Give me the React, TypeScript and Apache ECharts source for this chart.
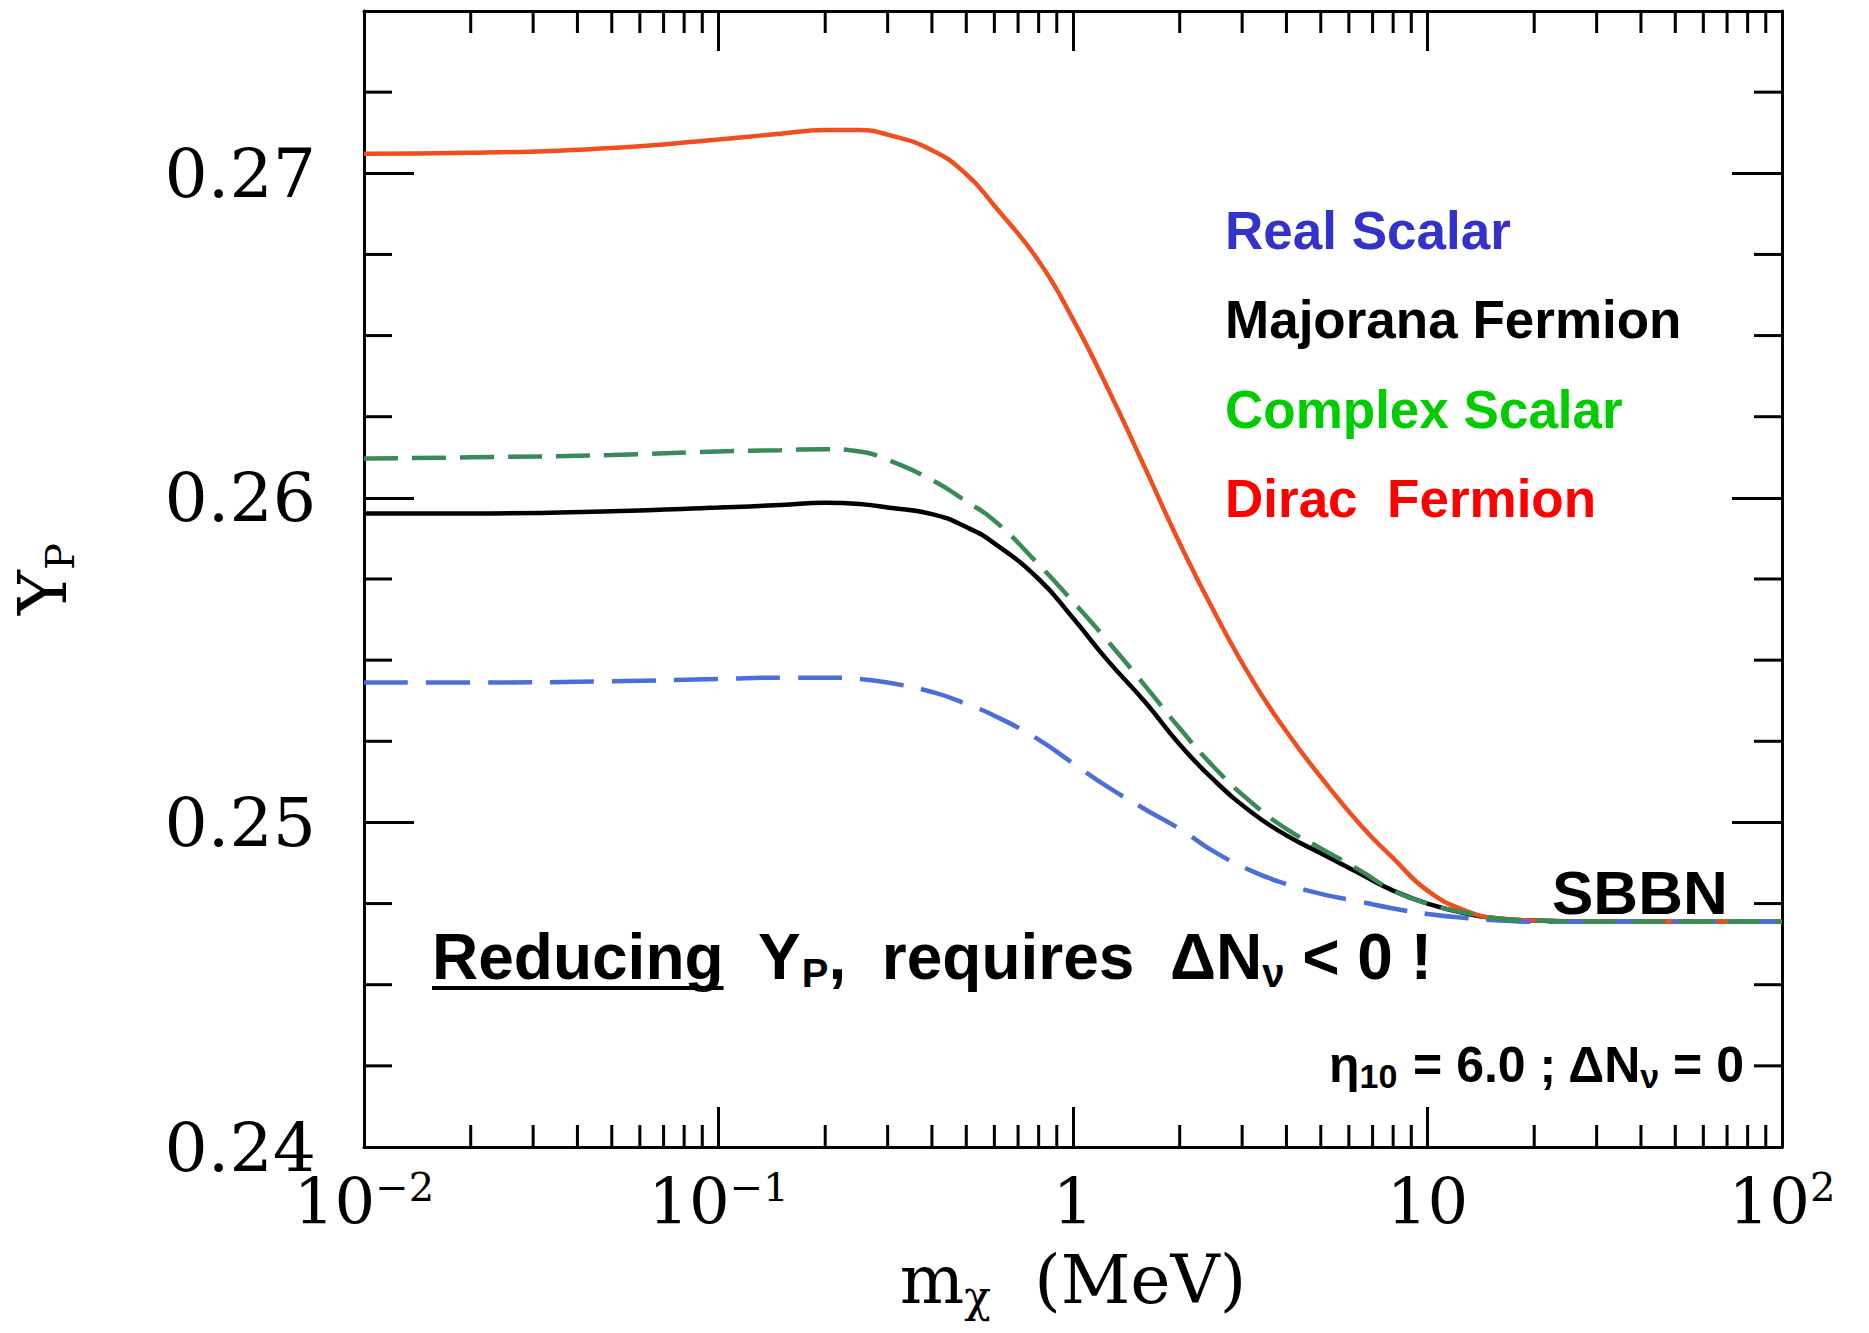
import React, { useEffect, useRef } from "react";
import * as echarts from "echarts";

// ---- data ----
const massMeV = [0.01, 0.02, 0.05, 0.1, 0.15, 0.2, 0.25, 0.3, 0.4, 0.5, 0.6, 0.8, 1.0, 1.25, 1.6, 2.0, 2.5, 3.2, 4.0, 5.0, 6.5, 8.0, 10, 13, 16, 20, 30, 50, 100];

const diracFermion = [0.2706, 0.27063, 0.27078, 0.27104, 0.27122, 0.27133, 0.27133, 0.27119, 0.27071, 0.26997, 0.2690, 0.2673, 0.2655, 0.2634, 0.2609, 0.2586, 0.2565, 0.2544, 0.2528, 0.2514, 0.2499, 0.2489, 0.2479, 0.24725, 0.24704, 0.24698, 0.24694, 0.24694, 0.24694];
const majoranaFermion = [0.25952, 0.25952, 0.25959, 0.2597, 0.25978, 0.25985, 0.25981, 0.2597, 0.2595, 0.2591, 0.2586, 0.2575, 0.2563, 0.255, 0.2537, 0.2524, 0.2513, 0.2503, 0.2496, 0.24905, 0.2484, 0.2479, 0.2475, 0.24718, 0.24703, 0.24698, 0.24694, 0.24694, 0.24694];
const complexScalar = [0.26121, 0.26125, 0.26132, 0.26143, 0.26147, 0.2615, 0.26143, 0.26117, 0.26055, 0.25989, 0.2593, 0.25795, 0.2568, 0.2556, 0.2542, 0.2529, 0.2517, 0.2506, 0.2498, 0.2492, 0.2485, 0.2479, 0.2475, 0.2472, 0.24703, 0.24698, 0.24694, 0.24694, 0.24694];
const realScalar = [0.25431, 0.25431, 0.25435, 0.25442, 0.25446, 0.25446, 0.25442, 0.25431, 0.25402, 0.25365, 0.25329, 0.25255, 0.25182, 0.2511, 0.2504, 0.2498, 0.2491, 0.2485, 0.2481, 0.2478, 0.24755, 0.24735, 0.24718, 0.24705, 0.24698, 0.24694, 0.24694, 0.24694, 0.24694];

const X_MIN = 0.01;
const X_MAX = 100;
const Y_MIN = 0.24;
const Y_MAX = 0.275;

const xTickLabels = ["{b|10}{p|\u22122}", "{b|10}{p|\u22121}", "{b|1}", "{b|10}", "{b|10}{p|2}"];
const xMinorTicks: number[] = [];
[0.01, 0.1, 1, 10].forEach((d) => {
  for (let k = 2; k <= 9; k++) xMinorTicks.push(+(k * d).toPrecision(3));
});
const yMinorTicks = [0.2425, 0.245, 0.2475, 0.2525, 0.255, 0.2575, 0.2625, 0.265, 0.2675, 0.2725];

const legendItems = [
  { text: "Real Scalar", color: "#3333CC" },
  { text: "Majorana Fermion", color: "#000000" },
  { text: "Complex Scalar", color: "#00CC00" },
  { text: "Dirac  Fermion", color: "#FF0000" },
];

const SERIF = "'DejaVu Serif', 'Liberation Serif', serif";
const SANS = "'Liberation Sans', Arial, sans-serif";

const pair = (arr: number[]) => massMeV.map((m, i) => [m, arr[i]]);

export default function App() {
  const ref = useRef<HTMLDivElement>(null);

  useEffect(() => {
    document.body.style.margin = "0";
    if (!ref.current) return;
    const chart = echarts.init(ref.current, undefined, { renderer: "svg" });

    const canvas = document.createElement("canvas");
    const ctx = canvas.getContext("2d")!;
    ctx.font = `bold 64px ${SANS}`;
    const underlineW = ctx.measureText("Reducing").width;

    const axisLine = { show: true, lineStyle: { color: "#000", width: 3 } };

    const tickData = [
      ...xMinorTicks.map((x) => [x, Y_MIN, 0]),
      ...yMinorTicks.map((y) => [X_MIN, y, 1]),
    ];

    const lineSeries = (name: string, arr: number[], lineStyle: any) => ({
      name,
      type: "line",
      data: pair(arr),
      showSymbol: false,
      smooth: 0.5,
      lineStyle,
    });

    const option: any = {
      animation: false,
      backgroundColor: "#ffffff",
      grid: { left: 364, right: 87, top: 11, bottom: 186, containLabel: false },
      xAxis: [
        {
          type: "log",
          logBase: 10,
          min: X_MIN,
          max: X_MAX,
          position: "bottom",
          axisLine,
          axisTick: { show: true, inside: true, length: 40, lineStyle: { color: "#000", width: 3 } },
          splitLine: { show: false },
          axisLabel: {
            margin: 20,
            formatter: (v: number) => xTickLabels[Math.round(Math.log10(v)) + 2] ?? "",
            rich: {
              b: { fontFamily: SERIF, fontSize: 64, lineHeight: 70, color: "#000" },
              p: { fontFamily: SERIF, fontSize: 40, lineHeight: 52, verticalAlign: "top", color: "#000" },
            },
          },
          name: "{m|m}{c|\u03c7}{t|  (MeV)}",
          nameLocation: "middle",
          nameGap: 93,
          nameTextStyle: {
            rich: {
              m: { fontFamily: SERIF, fontSize: 68, lineHeight: 78, color: "#000" },
              c: { fontFamily: SERIF, fontSize: 44, lineHeight: 40, verticalAlign: "bottom", color: "#000" },
              t: { fontFamily: SERIF, fontSize: 68, lineHeight: 78, color: "#000" },
            },
          },
        },
        {
          type: "log",
          logBase: 10,
          min: X_MIN,
          max: X_MAX,
          position: "top",
          axisLine,
          axisTick: { show: true, inside: true, length: 40, lineStyle: { color: "#000", width: 3 } },
          splitLine: { show: false },
          axisLabel: { show: false },
        },
      ],
      yAxis: [
        {
          type: "value",
          min: Y_MIN,
          max: Y_MAX,
          interval: 0.01,
          position: "left",
          axisLine,
          axisTick: { show: true, inside: true, length: 50, lineStyle: { color: "#000", width: 3 } },
          splitLine: { show: false },
          axisLabel: {
            margin: 48,
            showMaxLabel: false,
            fontFamily: SERIF,
            fontSize: 68,
            color: "#000",
            formatter: (v: number) => (Math.abs(v * 100 - Math.round(v * 100)) < 1e-6 ? v.toFixed(2) : ""),
          },
          name: "{y|Y}{s|P}",
          nameLocation: "middle",
          nameRotate: 90,
          nameGap: 284,
          nameTextStyle: {
            rich: {
              y: { fontFamily: SERIF, fontSize: 68, lineHeight: 76, color: "#000" },
              s: { fontFamily: SERIF, fontSize: 40, lineHeight: 40, verticalAlign: "bottom", color: "#000" },
            },
          },
        },
        {
          type: "value",
          min: Y_MIN,
          max: Y_MAX,
          interval: 0.01,
          position: "right",
          axisLine,
          axisTick: { show: true, inside: true, length: 50, lineStyle: { color: "#000", width: 3 } },
          splitLine: { show: false },
          axisLabel: { show: false },
        },
      ],
      series: [
        lineSeries("Majorana Fermion", majoranaFermion, { color: "#000000", width: 4.5 }),
        lineSeries("Dirac  Fermion", diracFermion, { color: "#F04E1E", width: 4.5 }),
        lineSeries("Real Scalar", realScalar, { color: "#4A6FD8", width: 4.5, type: [44, 18] }),
        lineSeries("Complex Scalar", complexScalar, { color: "#3A8A55", width: 4.5, type: [34, 14] }),
        {
          name: "minor ticks",
          type: "custom",
          silent: true,
          clip: false,
          z: 5,
          data: tickData,
          encode: { x: 0, y: 1 },
          renderItem: (_p: any, api: any) => {
            const kind = api.value(2);
            const style = { stroke: "#000", lineWidth: 3 };
            if (kind === 0) {
              const x = api.value(0);
              const pb = api.coord([x, Y_MIN]);
              const pt = api.coord([x, Y_MAX]);
              return {
                type: "group",
                children: [
                  { type: "line", shape: { x1: pb[0], y1: pb[1], x2: pb[0], y2: pb[1] - 22 }, style },
                  { type: "line", shape: { x1: pt[0], y1: pt[1], x2: pt[0], y2: pt[1] + 22 }, style },
                ],
              };
            }
            const y = api.value(1);
            const pl = api.coord([X_MIN, y]);
            const pr = api.coord([X_MAX, y]);
            return {
              type: "group",
              children: [
                { type: "line", shape: { x1: pl[0], y1: pl[1], x2: pl[0] + 28, y2: pl[1] }, style },
                { type: "line", shape: { x1: pr[0], y1: pr[1], x2: pr[0] - 28, y2: pr[1] }, style },
              ],
            };
          },
        },
      ],
      graphic: [
        ...legendItems.map((it, i) => ({
          type: "text",
          x: 1225,
          y: 230 + i * 89.5,
          style: {
            text: it.text,
            fill: it.color,
            font: `bold 53px ${SANS}`,
            verticalAlign: "middle",
          },
        })),
        {
          type: "text",
          x: 1552,
          y: 892,
          style: { text: "SBBN", fill: "#000", font: `bold 62px ${SANS}`, verticalAlign: "middle" },
        },
        {
          type: "text",
          x: 432,
          y: 957,
          style: {
            text: "{s|Reducing}{s|  Y}{u|P}{s|,  requires  \u0394N}{u|\u03bd}{s| < 0 !}",
            verticalAlign: "middle",
            rich: {
              s: { fontFamily: SANS, fontWeight: "bold", fontSize: 64, lineHeight: 72, fill: "#000" },
              u: { fontFamily: SANS, fontWeight: "bold", fontSize: 40, lineHeight: 30, verticalAlign: "bottom", fill: "#000" },
            },
          },
        },
        {
          type: "line",
          shape: { x1: 432, y1: 988, x2: 432 + underlineW, y2: 988 },
          style: { stroke: "#000", lineWidth: 4 },
        },
        {
          type: "text",
          x: 1744,
          y: 1065,
          style: {
            text: "{s|\u03b7}{u|10}{s| = 6.0 ; \u0394N}{u|\u03bd}{s| = 0}",
            align: "right",
            verticalAlign: "middle",
            rich: {
              s: { fontFamily: SANS, fontWeight: "bold", fontSize: 50, lineHeight: 56, fill: "#000" },
              u: { fontFamily: SANS, fontWeight: "bold", fontSize: 34, lineHeight: 26, verticalAlign: "bottom", fill: "#000" },
            },
          },
        },
      ],
    };

    chart.setOption(option);
    return () => chart.dispose();
  }, []);

  return <div ref={ref} style={{ width: 1869, height: 1333 }} />;
}
